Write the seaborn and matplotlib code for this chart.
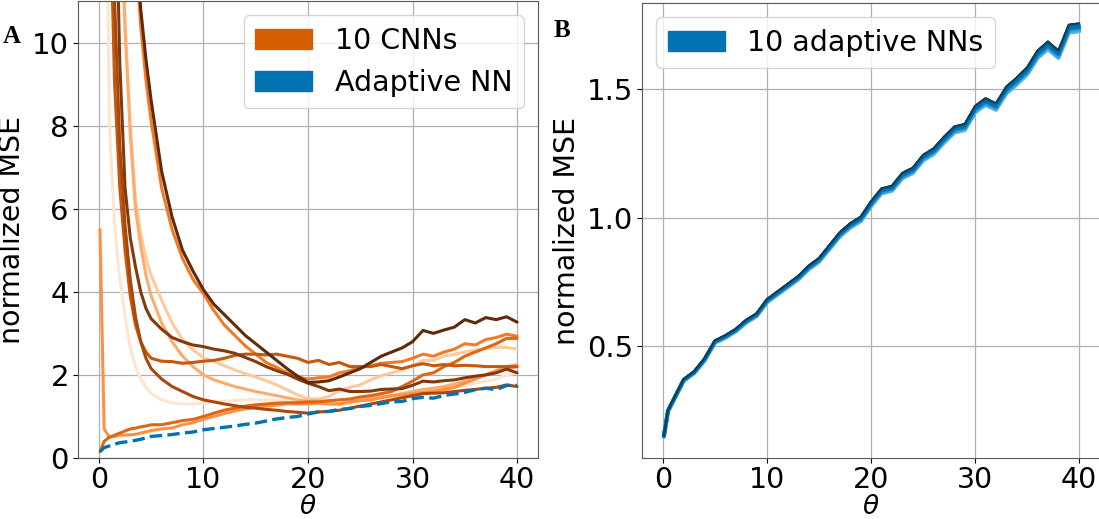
import numpy as np
import pandas as pd
import matplotlib
matplotlib.use('Agg')
import matplotlib.pyplot as plt
import seaborn as sns
from matplotlib.patches import Patch

# theta grid (finer near 0)
theta = [0.1, 0.5, 1, 1.5, 2, 2.5, 3, 3.5, 4, 4.5, 5,
         6, 7, 8, 9, 10, 11, 12, 13, 14, 15, 16, 17, 18, 19, 20,
         21, 22, 23, 24, 25, 26, 27, 28, 29, 30, 31, 32, 33, 34, 35,
         36, 37, 38, 39, 40]

# normalized MSE of the 10 CNNs (light -> dark)
cnn_0 = [40, 20, 8.0, 5.6, 4.3, 3.4, 2.65, 2.2, 1.9, 1.7, 1.55,
         1.4, 1.33, 1.3, 1.3, 1.32, 1.35, 1.37, 1.38, 1.4, 1.4,
         1.4, 1.38, 1.37, 1.35, 1.33, 1.33, 1.3, 1.28, 1.32, 1.38,
         1.4, 1.45, 1.48, 1.5, 1.55, 1.6, 1.62, 1.65, 1.7, 1.75,
         1.8, 1.85, 1.9, 2.0, 2.05]
cnn_1 = [90, 45, 26, 18, 14, 10.5, 8.0, 6.2, 5.4, 4.8, 4.4,
         3.8, 3.25, 2.85, 2.6, 2.42, 2.33, 2.22, 2.12, 2.03, 1.95,
         1.86, 1.76, 1.64, 1.52, 1.43, 1.42, 1.48, 1.62, 1.7, 1.76,
         1.88, 1.98, 2.05, 2.12, 2.22, 2.35, 2.35, 2.45, 2.5, 2.55,
         2.6, 2.63, 2.66, 2.66, 2.62]
cnn_2 = [90, 45, 26, 18, 14, 10.3, 7.8, 6.0, 5.1, 4.4, 3.9,
         3.25, 2.8, 2.45, 2.2, 2.0, 1.88, 1.8, 1.72, 1.66, 1.6,
         1.55, 1.5, 1.45, 1.4, 1.37, 1.38, 1.35, 1.3, 1.35, 1.4,
         1.45, 1.48, 1.5, 1.55, 1.6, 1.65, 1.68, 1.72, 1.78, 1.85,
         1.92, 2.0, 2.1, 2.2, 2.25]
cnn_3 = [5.5, 0.7, 0.5, 0.52, 0.55, 0.55, 0.56, 0.57, 0.6, 0.63, 0.66,
         0.7, 0.72, 0.8, 0.85, 0.93, 1.0, 1.07, 1.13, 1.18, 1.22,
         1.25, 1.27, 1.3, 1.3, 1.3, 1.32, 1.3, 1.3, 1.35, 1.38,
         1.4, 1.45, 1.5, 1.52, 1.55, 1.58, 1.6, 1.65, 1.7, 1.8,
         1.9, 2.0, 2.1, 2.15, 2.2]
cnn_4 = [200, 90, 55, 38, 26, 19, 15, 12.2, 10.4, 9.1, 8.1,
         6.5, 5.5, 4.8, 4.3, 3.95, 3.55, 3.2, 2.95, 2.7, 2.5,
         2.3, 2.18, 2.05, 1.95, 1.9, 1.93, 1.95, 2.05, 2.1, 2.18,
         2.22, 2.28, 2.3, 2.32, 2.4, 2.5, 2.45, 2.55, 2.62, 2.75,
         2.72, 2.85, 2.9, 2.98, 2.93]
cnn_5 = [0.15, 0.4, 0.5, 0.55, 0.6, 0.65, 0.7, 0.72, 0.75, 0.77, 0.8,
         0.8, 0.85, 0.9, 0.93, 1.0, 1.08, 1.15, 1.2, 1.25, 1.28,
         1.3, 1.32, 1.33, 1.33, 1.35, 1.35, 1.38, 1.4, 1.42, 1.47,
         1.5, 1.55, 1.6, 1.72, 1.85, 2.0, 2.05, 2.2, 2.3, 2.45,
         2.55, 2.65, 2.75, 2.88, 2.88]
cnn_6 = [150, 40, 14, 9.0, 6.5, 5.0, 3.9, 3.2, 2.8, 2.55, 2.4,
         2.33, 2.32, 2.28, 2.3, 2.33, 2.35, 2.4, 2.47, 2.5, 2.5,
         2.48, 2.5, 2.45, 2.4, 2.3, 2.35, 2.25, 2.3, 2.2, 2.2,
         2.2, 2.25, 2.2, 2.15, 2.22, 2.27, 2.22, 2.25, 2.22, 2.23,
         2.22, 2.2, 2.2, 2.2, 2.2]
cnn_7 = [180, 50, 18, 11, 7.5, 5.6, 4.3, 3.4, 2.8, 2.4, 2.15,
         1.9, 1.72, 1.6, 1.48, 1.4, 1.35, 1.3, 1.26, 1.22, 1.2,
         1.17, 1.15, 1.12, 1.1, 1.08, 1.11, 1.12, 1.15, 1.2, 1.25,
         1.3, 1.35, 1.4, 1.45, 1.5, 1.55, 1.56, 1.57, 1.6, 1.63,
         1.65, 1.68, 1.7, 1.76, 1.72]
cnn_8 = [300, 60, 25, 15, 9.5, 6.5, 5.3, 4.6, 4.0, 3.6, 3.35,
         3.1, 2.9, 2.8, 2.72, 2.68, 2.62, 2.58, 2.52, 2.42, 2.32,
         2.2, 2.1, 2.02, 1.9, 1.8, 1.72, 1.62, 1.66, 1.6, 1.6,
         1.61, 1.65, 1.66, 1.67, 1.75, 1.85, 1.83, 1.86, 1.88, 1.93,
         1.97, 2.0, 2.05, 2.14, 2.05]
cnn_9 = [250, 100, 60, 40, 28, 20, 15.5, 12.8, 10.8, 9.6, 8.6,
         6.9, 5.8, 5.0, 4.5, 4.05, 3.7, 3.45, 3.2, 2.95, 2.75,
         2.55, 2.35, 2.15, 1.97, 1.82, 1.83, 1.86, 1.95, 2.05, 2.15,
         2.3, 2.45, 2.55, 2.65, 2.8, 3.07, 3.0, 3.08, 3.15, 3.33,
         3.25, 3.38, 3.33, 3.4, 3.27]
cnn_curves = [cnn_0, cnn_1, cnn_2, cnn_3, cnn_4, cnn_5, cnn_6, cnn_7, cnn_8, cnn_9]

# normalized MSE of the adaptive NN
adaptive_mse = [0.15, 0.25, 0.29, 0.33, 0.37, 0.385, 0.40, 0.425, 0.45, 0.485, 0.52,
                0.54, 0.565, 0.60, 0.625, 0.68, 0.71, 0.74, 0.77, 0.81, 0.84,
                0.89, 0.94, 0.975, 1.0, 1.06, 1.11, 1.12, 1.17, 1.19, 1.24,
                1.265, 1.31, 1.35, 1.36, 1.43, 1.46, 1.44, 1.505, 1.54, 1.58,
                1.645, 1.68, 1.645, 1.745, 1.75]
# relative spread of the 10 adaptive NNs around it (light -> dark)
net_scale = [0.986, 0.989, 0.992, 0.994, 0.996, 0.998, 1.0, 1.002, 1.003, 1.004]

cnn_df = pd.DataFrame({
    'theta': theta * len(cnn_curves),
    'mse': np.concatenate(cnn_curves),
    'net': np.repeat(np.arange(len(cnn_curves)), len(theta)),
})

sns.set_style('whitegrid', {'grid.color': '#b0b0b0', 'axes.edgecolor': '0.35',
                            'xtick.bottom': True, 'ytick.left': True,
                            'xtick.color': 'black', 'ytick.color': 'black',
                            'text.color': 'black', 'axes.labelcolor': 'black'})
plt.rcParams['font.family'] = ['DejaVu Sans']
plt.rcParams['grid.linewidth'] = 0.9

cb = sns.color_palette('colorblind')
blue, vermillion = cb[0], cb[3]
oranges = sns.blend_palette(['#fee6ce', '#fdb174', '#f9822f', '#d75f0c',
                             '#a4460b', '#5e2a08'], 10)
blues = sns.blend_palette(['#5ab8ee', '#2f9bd9', '#0173b2', '#0173b2',
                           '#0d5e92', '#123a58'], 10)
blue_widths = [3.2, 3.0, 2.8, 2.6, 2.4, 2.2, 2.0, 1.7, 1.4, 1.1]

fig = plt.figure(figsize=(10.99, 5.19), dpi=100)
W, H = 1099, 519
axA = fig.add_axes([78 / W, 1 - 458 / H, 460 / W, 457 / H])
axB = fig.add_axes([642 / W, 1 - 458 / H, 458 / W, 455 / H])

# panel A
sns.lineplot(data=cnn_df, x='theta', y='mse', hue='net', palette=oranges,
             legend=False, linewidth=2.2, ax=axA)
sns.lineplot(x=theta, y=adaptive_mse, color=blue, linestyle='--',
             linewidth=2.4, ax=axA)
axA.set_xlim(-2, 42)
axA.set_ylim(0, 11)
axA.set_yticks([0, 2, 4, 6, 8, 10])
axA.set_xticks([0, 10, 20, 30, 40])
axA.legend(handles=[Patch(color=vermillion, label='10 CNNs'),
                    Patch(color=blue, label='Adaptive NN')],
           loc='upper right', fontsize=20.5)

# panel B
for s, c, w in zip(net_scale, blues, blue_widths):
    sns.lineplot(x=theta, y=np.array(adaptive_mse) * s, color=c,
                 linewidth=w, ax=axB)
axB.set_xlim(-2, 42)
axB.set_ylim(0.064, 1.835)
axB.set_yticks([0.5, 1.0, 1.5])
axB.set_xticks([0, 10, 20, 30, 40])
axB.legend(handles=[Patch(color=blue, label='10 adaptive NNs')],
           loc='upper left', fontsize=20.5)

for ax in (axA, axB):
    ax.set_xlabel(r'$\theta$', fontsize=19)
    ax.xaxis.set_label_coords(0.5, -0.079)
    ax.xaxis.label.set_va('top')
    ax.set_ylabel('normalized MSE', fontsize=20.5)
    ax.tick_params(axis='y', labelsize=21, length=3.5, width=0.8, pad=3)
    ax.tick_params(axis='x', labelsize=20.5, length=3.5, width=0.8, pad=2)

fig.text(3 / W, 1 - 43 / H, 'A', fontsize=18, fontweight='bold',
         family='Liberation Serif')
fig.text(554 / W, 1 - 37 / H, 'B', fontsize=18, fontweight='bold',
         family='Liberation Serif')

fig.savefig('out.png', dpi=100)
